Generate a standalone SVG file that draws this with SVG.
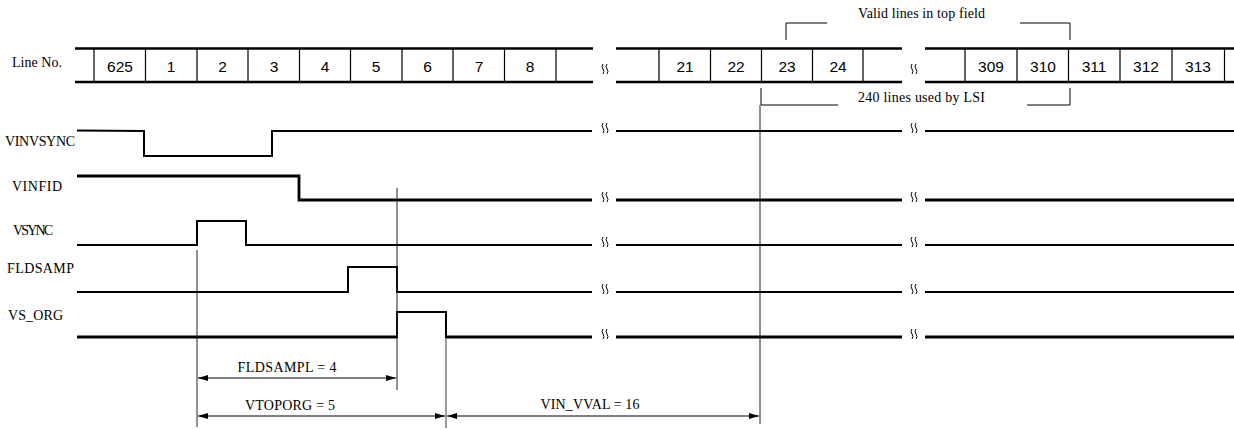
<svg xmlns="http://www.w3.org/2000/svg" width="1234" height="430" viewBox="0 0 1234 430">
<style>
.lbl{font-family:"Liberation Serif","Times New Roman",serif;font-size:14px;fill:#000}
.mid{text-anchor:middle}
.num{font-family:"Liberation Sans",Arial,sans-serif;font-size:15.5px;fill:#000;text-anchor:middle}
.border{stroke:#000;stroke-width:2.5;fill:none}
.div{stroke:#000;stroke-width:1.2;fill:none}
.wave{stroke:#000;stroke-width:2;fill:none}
.thick{stroke-width:2.8}
.guide{stroke:#222;stroke-width:1;fill:none}
.gray{stroke:#7a7a7a;stroke-width:1.5;fill:none}
.brk{stroke:#000;stroke-width:1;fill:none}
.dim{stroke:#000;stroke-width:1;fill:none;marker-start:url(#ah);marker-end:url(#ah)}
.brkt{stroke:#000;stroke-width:1;fill:none}
</style>
<defs>
<marker id="ah" viewBox="0 0 10 6" refX="10" refY="3" markerWidth="10" markerHeight="6" markerUnits="userSpaceOnUse" orient="auto-start-reverse"><path d="M0,0 L10,3 L0,6 z" fill="#000"/></marker>
<g id="bk" class="brk"><path d="M-2,-9 q-2,2.5 0,5 t0,5"/><path d="M2,-9 q-2,2.5 0,5 t0,5"/></g>
</defs>

<g id="line-no-table">
<text class="lbl" x="12" y="67" textLength="50">Line No.</text>
<path class="border" d="M75,48.5 H593 M75,82 H593 M616,48.5 H902 M616,82 H902 M925,48.5 H1234 M925,82 H1234"/>
<path class="div" d="M94,48 V83 M145.5,48 V83 M197,48 V83 M248,48 V83 M299.5,48 V83 M350.5,48 V83 M402,48 V83 M453,48 V83 M504.5,48 V83 M556,48 V83 M659,48 V83 M710.5,48 V83 M761.5,48 V83 M812.5,48 V83 M863,48 V83 M965,48 V83 M1017,48 V83 M1068.5,48 V83 M1120,48 V83 M1172,48 V83 M1224.5,48 V83"/>
<text class="num" x="120" y="71.5">625</text>
<text class="num" x="171" y="71.5">1</text>
<text class="num" x="222.5" y="71.5">2</text>
<text class="num" x="274" y="71.5">3</text>
<text class="num" x="325" y="71.5">4</text>
<text class="num" x="376" y="71.5">5</text>
<text class="num" x="427.5" y="71.5">6</text>
<text class="num" x="479" y="71.5">7</text>
<text class="num" x="530" y="71.5">8</text>
<text class="num" x="685" y="71.5">21</text>
<text class="num" x="736" y="71.5">22</text>
<text class="num" x="787" y="71.5">23</text>
<text class="num" x="838" y="71.5">24</text>
<text class="num" x="991" y="71.5">309</text>
<text class="num" x="1043" y="71.5">310</text>
<text class="num" x="1094" y="71.5">311</text>
<text class="num" x="1146" y="71.5">312</text>
<text class="num" x="1198" y="71.5">313</text>
<use href="#bk" x="605" y="73"/>
<use href="#bk" x="914" y="73"/>
</g>

<g id="valid-lines-bracket">
<path class="brkt" d="M786,40 V23 H827 M1020,23 H1070 V40"/>
<text class="lbl" x="858" y="18" textLength="127" font-size="13">Valid lines in top field</text>
</g>

<g id="lsi-lines-bracket">
<path class="brkt" d="M761,88 V105 H838 M1027,105 H1070 V88"/>
<text class="lbl" x="858" y="102" textLength="127" font-size="13">240 lines used by LSI</text>
</g>

<g id="VINVSYNC">
<text class="lbl" x="5" y="146" textLength="70">VINVSYNC</text>
<path class="wave" d="M77,130.5 L144,131 V156 H272 V131 H592 M616,131 H902 M925,131 H1234"/>
<use href="#bk" x="605" y="132"/>
<use href="#bk" x="914" y="132"/>
</g>

<g id="VINFID">
<text class="lbl" x="12" y="191" textLength="50">VINFID</text>
<path class="wave thick" d="M77,176 H299 V200 H592 M616,200 H902 M925,200 H1234"/>
<use href="#bk" x="605" y="201"/>
<use href="#bk" x="914" y="201"/>
</g>

<g id="VSYNC">
<text class="lbl" x="13" y="235" textLength="40">VSYNC</text>
<path class="wave" d="M77,245 H197 V221 H246 V245 H592 M616,245 H902 M925,245 H1234"/>
<use href="#bk" x="605" y="246"/>
<use href="#bk" x="914" y="246"/>
</g>

<g id="FLDSAMP">
<text class="lbl" x="7" y="273" textLength="67">FLDSAMP</text>
<path class="wave" d="M77,292 H348 V267 H397 V292 H592 M616,292 H902 M925,292 H1234"/>
<use href="#bk" x="605" y="293"/>
<use href="#bk" x="914" y="293"/>
</g>

<g id="VS_ORG">
<text class="lbl" x="8" y="320" textLength="55">VS_ORG</text>
<path class="wave thick" d="M77,337 H397 M446,337 H592 M616,337 H902 M925,337 H1234"/>
<path class="wave" d="M397,338 V312 H446 V338"/>
<use href="#bk" x="605" y="338"/>
<use href="#bk" x="914" y="338"/>
</g>

<g id="connectors">
<path class="guide" d="M197,250 V427"/>
<path class="guide" d="M397,188 V390"/>
<path class="gray" d="M446,338 V428"/>
<path class="guide" d="M760,105 V424"/>
<path class="dim" d="M198,378 H396"/>
<path class="dim" d="M198,416 H445"/>
<path class="dim" d="M447,416 H759"/>
</g>

<g id="dimension-labels">
<text class="lbl mid" x="287" y="372" textLength="99">FLDSAMPL = 4</text>
<text class="lbl mid" x="290" y="410" textLength="90">VTOPORG = 5</text>
<text class="lbl mid" x="590" y="409" textLength="99">VIN_VVAL = 16</text>
</g>
</svg>
